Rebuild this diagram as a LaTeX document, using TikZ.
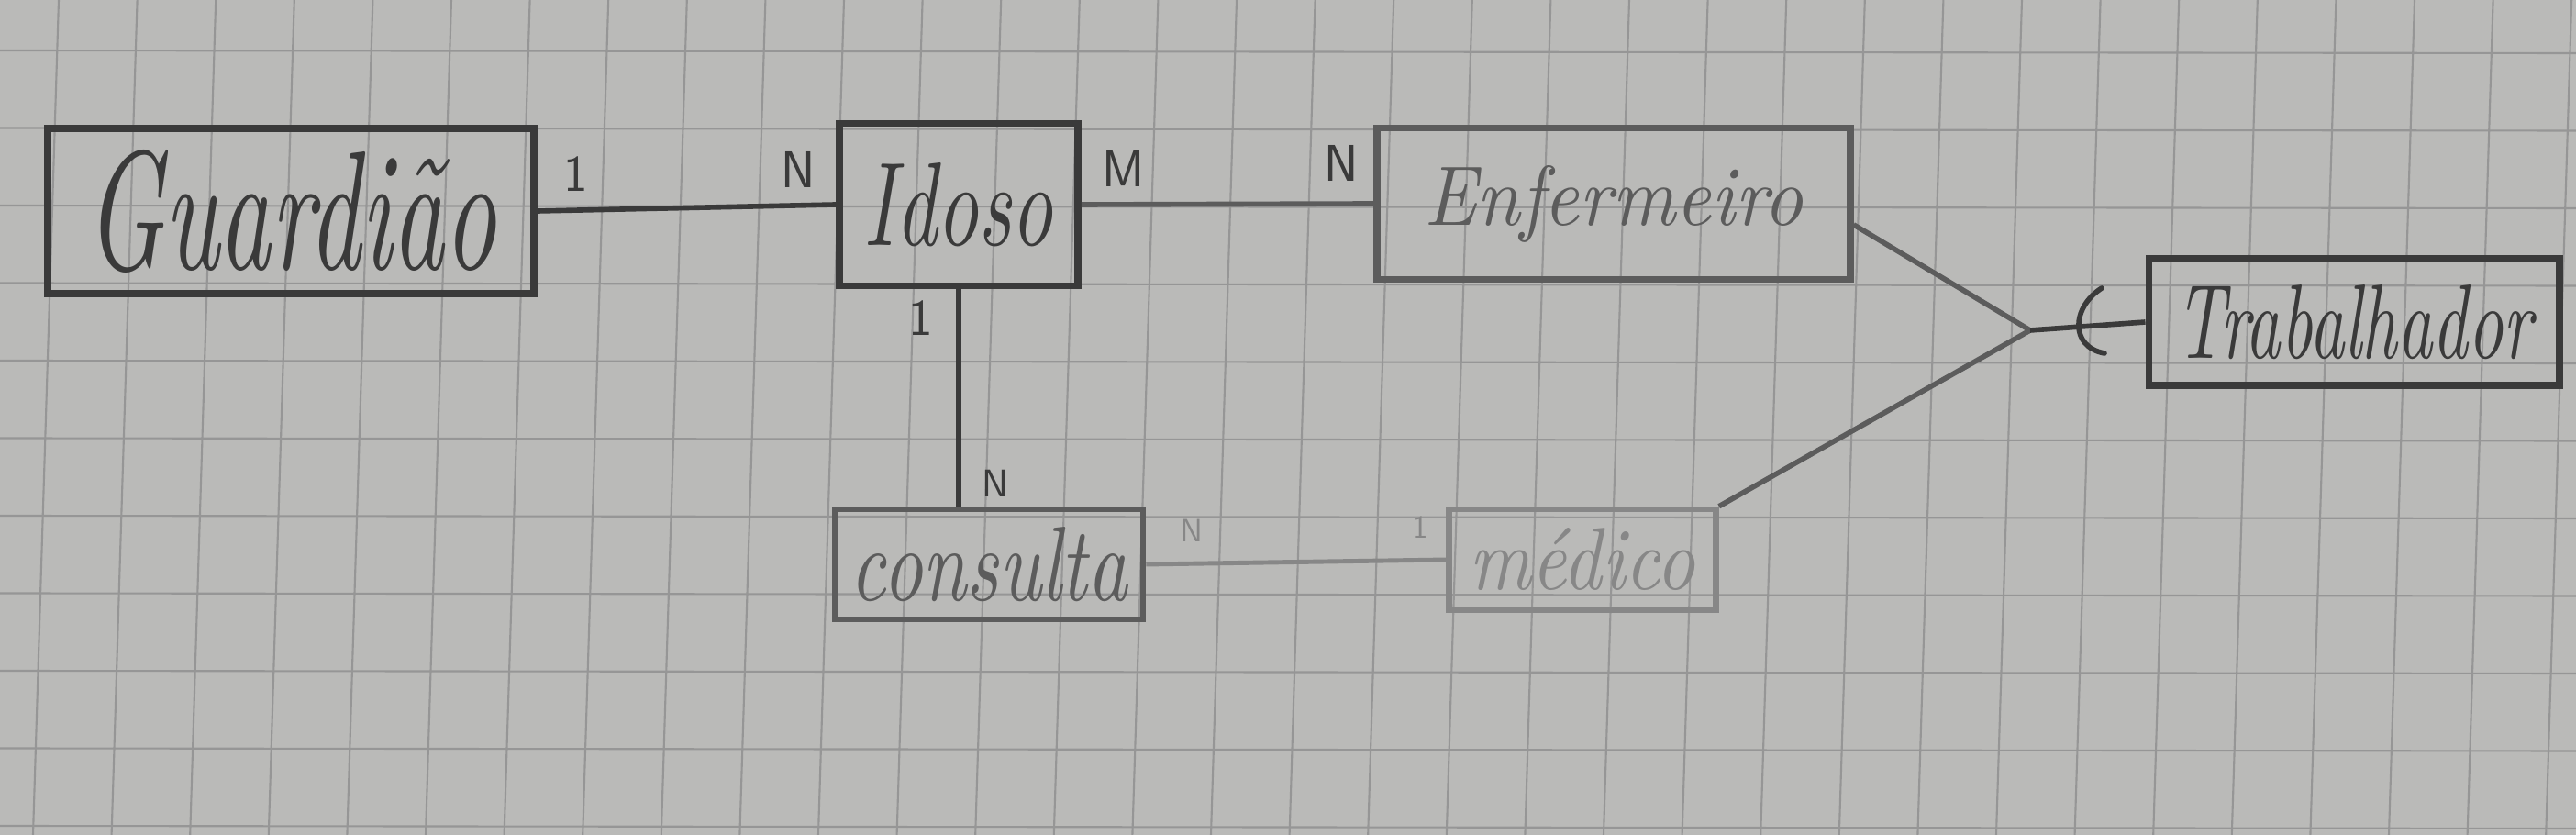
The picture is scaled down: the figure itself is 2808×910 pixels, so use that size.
\documentclass[tikz,border=0pt]{standalone}
\usepackage{graphicx}
\definecolor{paper}{RGB}{186,186,184}
\definecolor{gridc}{RGB}{150,150,150}
\definecolor{ink}{RGB}{58,58,58}
\definecolor{inkmid}{RGB}{92,92,92}
\definecolor{inklight}{RGB}{135,135,135}
\newcommand\handtxt[3]{\resizebox{#1}{#2}{\itshape #3}}
\begin{document}
\begin{tikzpicture}[x=0.01cm,y=-0.01cm,
  entity/.style={draw=ink, line width=2.2pt, inner sep=0pt, text=ink},
  rel/.style={draw=ink, line width=1.6pt},
  card/.style={text=ink, inner sep=0pt, font=\fontsize{16}{16}\selectfont\sffamily},
  smallcard/.style={text=inklight, inner sep=0pt, font=\fontsize{10}{10}\selectfont\sffamily}]
\useasboundingbox (0,0) rectangle (2808,910);
\clip (0,0) rectangle (2808,910);
% paper and grid
\fill[paper] (0,0) rectangle (2808,910);
\foreach \k in {0,...,33}
  \draw[gridc, line width=0.6pt] ({64+85.6*\k},0) -- ({36+85.6*\k},910);
\foreach \k in {0,...,10}
  \draw[gridc, line width=0.6pt] (0,{55+84.5*\k}) -- (2808,{58+84.5*\k});
% entities
\node[entity, minimum width=5.30cm, minimum height=1.80cm] (guard) at (317,230)
  {\handtxt{4.47cm}{1.3cm}{Guardião}};
\node[entity, minimum width=2.60cm, minimum height=1.77cm] (idoso) at (1045,223)
  {\handtxt{2.06cm}{0.9cm}{Idoso}};
\node[entity, draw=inkmid, text=inkmid, minimum width=5.15cm, minimum height=1.65cm] (enf) at (1759,222)
  {\handtxt{4.13cm}{0.65cm}{Enfermeiro}};
\node[entity, minimum width=4.47cm, minimum height=1.38cm] (trab) at (2566,351)
  {\handtxt{3.88cm}{0.8cm}{Trabalhador}};
\node[entity, draw=inkmid, text=inkmid, line width=1.8pt, minimum width=3.36cm, minimum height=1.20cm] (cons) at (1078,615)
  {\handtxt{3.02cm}{0.8cm}{consulta}};
\node[entity, draw=inklight, text=inklight, line width=1.8pt, minimum width=2.91cm, minimum height=1.10cm] (med) at (1725,610)
  {\handtxt{2.46cm}{0.67cm}{médico}};
% relationships
\draw[rel] (guard.east) -- (idoso.west);
\draw[rel, draw=inkmid] (idoso.east) -- (enf.west);
\draw[rel] (idoso.south) -- (idoso.south |- cons.north);
\draw[rel, draw=inklight, line width=1.4pt] (cons.east) -- (med.west);
\coordinate (j) at (2213,360);
\draw[rel, draw=inkmid] (enf.-5) -- (j);
\draw[rel, draw=inkmid] (med.north east) -- (j);
\draw[rel] (j) -- (trab.west);
\draw[ink, line width=1.6pt, line cap=round] (2291,314) .. controls (2258,335) and (2256,378) .. (2294,385);
% cardinalities
\node[card] (c1) at (628,190) {1};
\node[card] (c2) at (870,185) {N};
\node[card] (c3) at (1225,184) {M};
\node[card] (c4) at (1462,178) {N};
\node[card] (c5) at (1004,347) {1};
\node[card, font=\fontsize{12}{12}\selectfont\sffamily] (c6) at (1085,527) {N};
\node[smallcard] (c7) at (1299,578) {N};
\node[smallcard] (c8) at (1548,575) {1};
\end{tikzpicture}
\end{document}
